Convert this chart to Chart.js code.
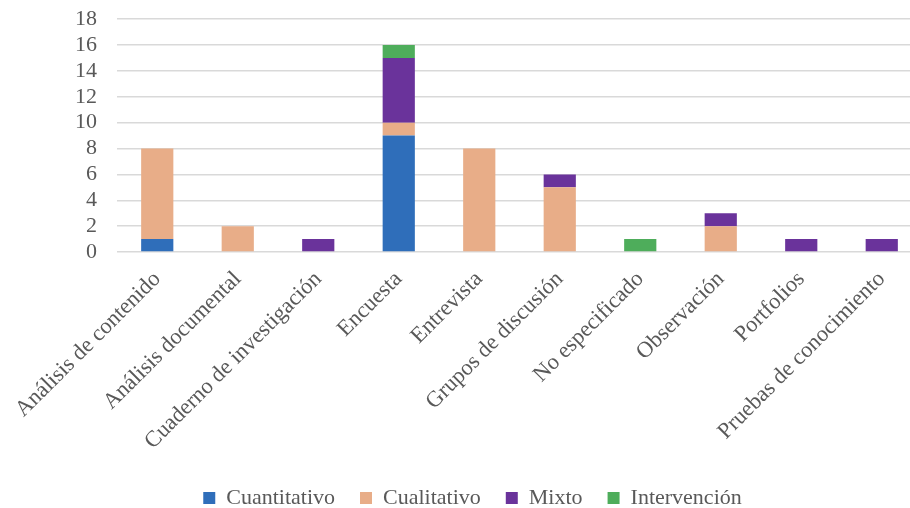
<!DOCTYPE html>
<html>
<head>
<meta charset="utf-8">
<script src="https://cdn.jsdelivr.net/npm/chart.js@4/dist/chart.umd.min.js"></script>
<style>
html,body{margin:0;padding:0;background:#fff;overflow:hidden;}
#wrap{width:925px;height:533px;position:relative;margin-top:-14px;}
</style>
</head>
<body>
<div id="wrap"><canvas id="c"></canvas></div>
<script>
const categories = ["Análisis de contenido","Análisis documental","Cuaderno de investigación","Encuesta","Entrevista","Grupos de discusión","No especificado","Observación","Portfolios","Pruebas de conocimiento"];
const cuantitativo = [1,0,0,9,0,0,0,0,0,0];
const cualitativo  = [7,2,0,1,8,5,0,2,0,0];
const mixto        = [0,0,1,5,0,1,0,1,1,1];
const intervencion = [0,0,0,1,0,0,1,0,0,0];
const yTicks = [0,2,4,6,8,10,12,14,16,18];

const FONT = "'Liberation Serif','Times New Roman',serif";
const TXT = '#595959';
const ds = (label, data, color) => ({label, data, backgroundColor: color, borderWidth: 0, barPercentage: 0.4, categoryPercentage: 1});

new Chart(document.getElementById('c'), {
  type: 'bar',
  data: {
    labels: categories,
    datasets: [
      ds('Cuantitativo', cuantitativo, '#2F6EBA'),
      ds('Cualitativo', cualitativo, '#E8AD88'),
      ds('Mixto', mixto, '#6A339B'),
      ds('Intervención', intervencion, '#4EAD5B')
    ]
  },
  options: {
    responsive: true,
    maintainAspectRatio: false,
    animation: false,
    layout: {padding: {top: 0, left: 23, right: 3, bottom: 0}},
    plugins: {
      tooltip: {enabled: false},
      legend: {
        position: 'bottom',
        labels: {boxWidth: 12, boxHeight: 12, font: {family: FONT, size: 22}, color: TXT, padding: 25}
      }
    },
    scales: {
      x: {
        stacked: true,
        grid: {display: false},
        border: {display: false},
        afterFit: s => { s.height = 210; },
        ticks: {maxRotation: 45, minRotation: 45, autoSkip: false, font: {family: FONT, size: 22.5}, color: TXT, padding: 6}
      },
      y: {
        stacked: true,
        min: 0, max: 18,
        afterBuildTicks: s => { s.ticks = yTicks.map(v => ({value: v})); },
        afterFit: s => { s.width = 94; },
        grid: {color: '#d9d9d9', lineWidth: 1.5, drawTicks: false},
        border: {display: false},
        ticks: {autoSkip: false, font: {family: FONT, size: 22}, color: TXT, padding: 20}
      }
    }
  }
});
</script>
</body>
</html>
